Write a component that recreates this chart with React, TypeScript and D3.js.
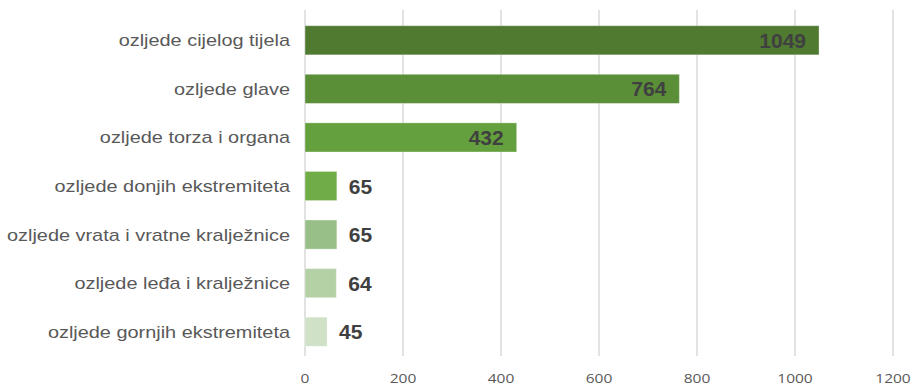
import React from "react";
import * as d3 from "d3";

const categories = [
  "ozljede cijelog tijela",
  "ozljede glave",
  "ozljede torza i organa",
  "ozljede donjih ekstremiteta",
  "ozljede vrata i vratne kralježnice",
  "ozljede leđa i kralježnice",
  "ozljede gornjih ekstremiteta",
];
const values = [1049, 764, 432, 65, 65, 64, 45];
const colors = ["#4f7a30", "#5a8e37", "#64a03d", "#70ad47", "#98bf87", "#b4d1a6", "#cfe1c7"];
const insideLabel = [true, true, true, false, false, false, false];
const ticks = [0, 200, 400, 600, 800, 1000, 1200];

const W = 914;
const H = 387;

export default function App() {
  const x = d3.scaleLinear().domain([0, 1200]).range([305, 893]);
  const y = d3.scaleBand<string>().domain(categories).range([16, 356]).paddingInner(0.4).paddingOuter(0.2);
  return (
    <svg width={W} height={H} style={{ position: "absolute", left: 0, top: 0, background: "#fff" }}>
      {ticks.map((t) => (
        <line key={"g" + t} x1={x(t)} x2={x(t)} y1={10} y2={356} stroke="#d9d9d9" strokeWidth={1.5} />
      ))}
      {categories.map((c, i) => {
        const y0 = y(c)!;
        const bw = y.bandwidth();
        const xe = x(values[i]);
        const cy = y0 + bw / 2;
        return (
          <g key={c}>
            <rect x={x(0)} y={y0} width={xe - x(0)} height={bw} fill={colors[i]} stroke="#ffffff" strokeOpacity={0.35} strokeWidth={1} />
            <text
              transform={`translate(290,${cy}) scale(1.17,1)`}
              dy="0.35em"
              textAnchor="end"
              fontFamily="Liberation Sans, Arial, sans-serif"
              fontSize={17}
              fill="#595959"
            >
              {c}
            </text>
            <text
              x={insideLabel[i] ? xe - 13 : xe + 12}
              y={cy}
              dy="0.36em"
              textAnchor={insideLabel[i] ? "end" : "start"}
              fontFamily="Liberation Sans, Arial, sans-serif"
              fontWeight="bold"
              fontSize={21}
              fill="#404040"
            >
              {values[i]}
            </text>
          </g>
        );
      })}
      {ticks.map((t) => (
        <text
          key={"t" + t}
          transform={`translate(${x(t)},383) scale(1.15,1)`}
          textAnchor="middle"
          fontFamily="Open Sans, Liberation Sans, sans-serif"
          fontSize={13.5}
          fill="#595959"
        >
          {t}
        </text>
      ))}
    </svg>
  );
}
